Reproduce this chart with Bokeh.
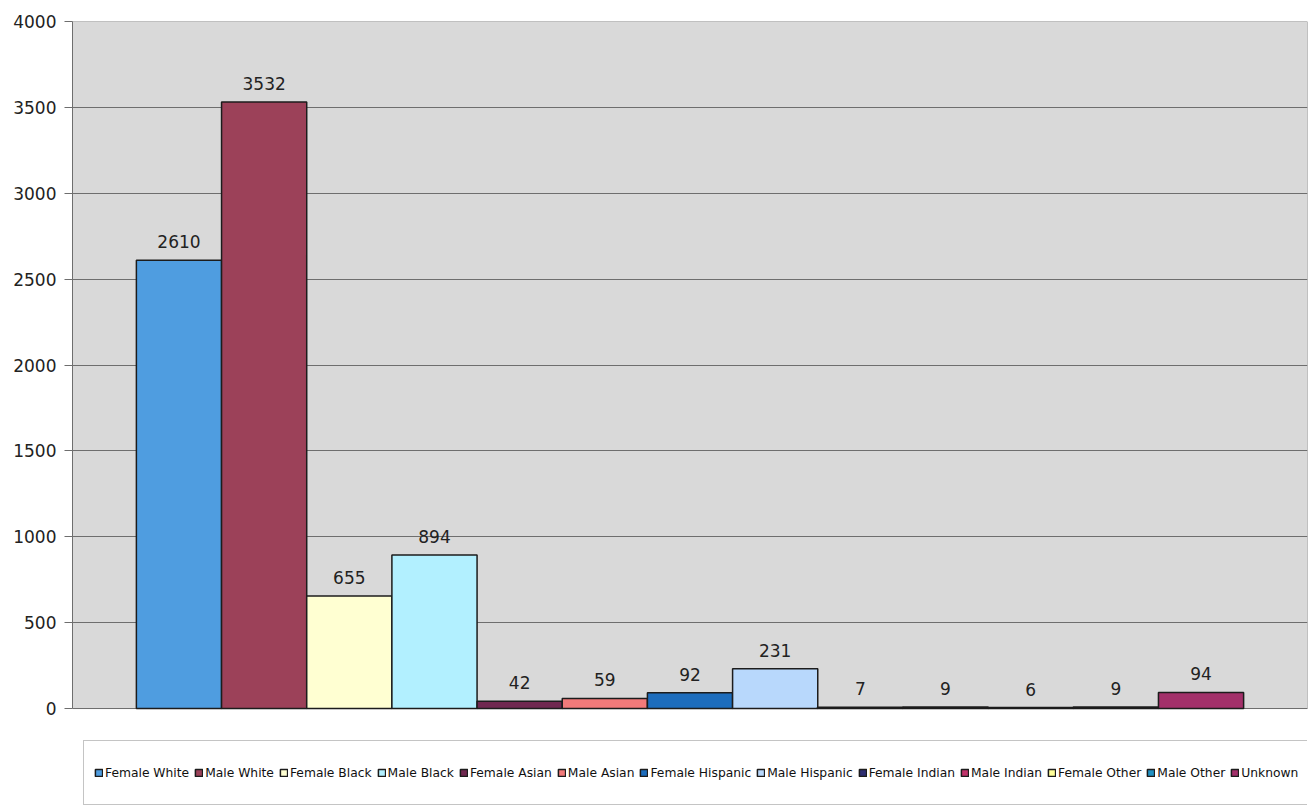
from bokeh.plotting import figure
from bokeh.models import ColumnDataSource, Legend, LegendItem, FixedTicker, Range1d
from bokeh.core.properties import value
from bokeh.embed import file_html
from bokeh.resources import INLINE

categories = ["Female White", "Male White", "Female Black", "Male Black",
              "Female Asian", "Male Asian", "Female Hispanic", "Male Hispanic",
              "Female Indian", "Male Indian", "Female Other", "Male Other", "Unknown"]
counts = [2610, 3532, 655, 894, 42, 59, 92, 231, 7, 9, 6, 9, 94]
bar_colors = ["#4f9de0", "#9c4159", "#ffffd2", "#b2f0ff", "#702850", "#f27a7a",
              "#1d6dbd", "#b8d8fc", "#2e2e72", "#c0336a", "#ffff99", "#2192c4", "#a3306a"]
y_ticks = [0, 500, 1000, 1500, 2000, 2500, 3000, 3500, 4000]

FONT = "DejaVu Sans"

src = ColumnDataSource(dict(
    x=list(range(len(categories))),
    top=counts,
    color=bar_colors,
    cat=categories,
    lbl=[str(v) for v in counts],
))

x_lo, x_hi = -1.25, len(categories) + 0.25
y_lo, y_hi = y_ticks[0], y_ticks[-1]

# extra room under zero holds the legend box inside the frame
p = figure(width=1312, height=808, output_backend="svg", toolbar_location=None,
           x_range=Range1d(x_lo, x_hi), y_range=Range1d(-582, y_hi),
           min_border_left=72, min_border_right=5, min_border_top=21, min_border_bottom=0)

p.background_fill_color = "white"
p.border_fill_color = "white"
p.outline_line_color = None

# grey plot area (chart background)
p.quad(left=[x_lo], right=[x_hi], bottom=[y_lo], top=[y_hi],
       fill_color="#d9d9d9", line_color="#8a8a8a", line_width=1, level="image")

r = p.vbar(x="x", top="top", width=1.0, bottom=0, source=src,
           fill_color="color", line_color="#1c1c1c", line_width=1.5)

p.text(x="x", y="top", text="lbl", source=src, text_align="center",
       text_baseline="bottom", y_offset=-12, text_font=value(FONT),
       text_font_size="17px", text_color="#222222")

p.xaxis.visible = False
p.xgrid.visible = False
p.ygrid.grid_line_color = "#6e6e6e"
p.ygrid.grid_line_width = 1
p.ygrid.ticker = FixedTicker(ticks=y_ticks)

ya = p.yaxis[0]
ya.ticker = FixedTicker(ticks=y_ticks)
ya.bounds = (y_lo, y_hi)
ya.major_label_text_font = FONT
ya.major_label_text_font_size = "17px"
ya.major_label_text_color = "#222222"
ya.axis_line_color = "#6e6e6e"
ya.major_tick_line_color = "#6e6e6e"
ya.major_tick_in = 0
ya.major_tick_out = 8
ya.minor_tick_line_color = None
ya.major_label_standoff = 8

items = [LegendItem(label=c, renderers=[r], index=i) for i, c in enumerate(categories)]
legend = Legend(items=items, orientation="horizontal", location=(11, 3),
                label_text_font=FONT, label_text_font_size="12.3px",
                label_text_color="#111111", label_height=43,
                glyph_width=9, glyph_height=9, label_standoff=2, spacing=5,
                padding=10, margin=0,
                border_line_color="#8a8a8a", border_line_width=1,
                background_fill_color="white", background_fill_alpha=1.0)
p.add_layout(legend, "center")

open("out.html", "w").write(file_html(p, INLINE))
